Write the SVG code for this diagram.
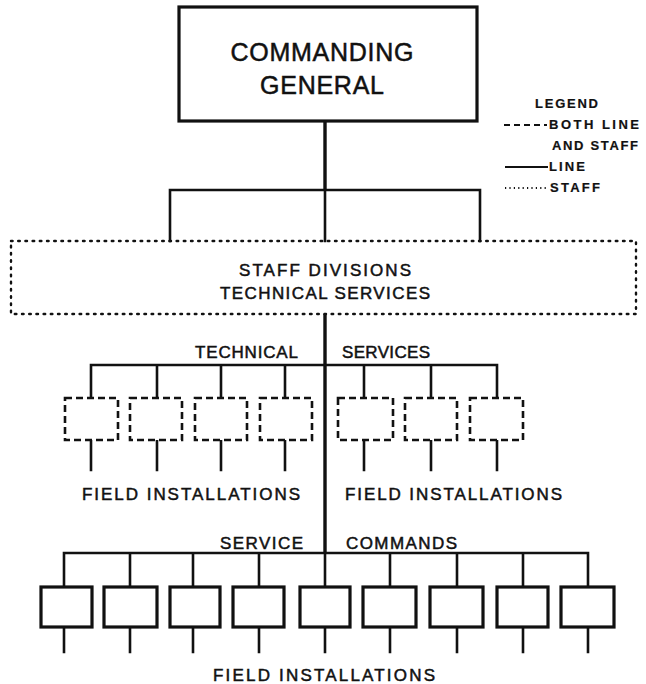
<svg xmlns="http://www.w3.org/2000/svg" width="646" height="684" viewBox="0 0 646 684">
<style>
text{font-family:"Liberation Sans","DejaVu Sans",sans-serif;fill:#111;stroke:#111;stroke-width:0.5;}
.lbl{font-size:17px;}
.big{font-size:25px;}
.leg{font-size:13px;font-weight:bold;stroke-width:0.2;}
.ln{stroke:#111;stroke-width:2.6;fill:none;stroke-linecap:square;}
.spine{stroke:#111;stroke-width:3.4;fill:none;}
.solid{stroke:#111;stroke-width:3.2;fill:#fff;}
.dash{stroke:#111;stroke-width:2.6;fill:#fff;stroke-dasharray:7 4;}
.dot{stroke:#111;stroke-width:2.4;fill:none;stroke-dasharray:1.6 5.6;stroke-linecap:round;}
</style>
<rect width="646" height="684" fill="#fff" stroke="none"/>
<g id="connectors">
<path class="spine" d="M325 121V190M325 314V553"/>
<path class="ln" d="M170 241V190H480V241M325 190V241"/>
<path class="ln" d="M91 398V365H497V398M157 365V398M221 365V398M285 365V398M364 365V398M431 365V398"/>
<path class="ln" d="M91 440V470M157 440V470M221 440V470M285 440V470M364 440V470M431 440V470M497 440V470"/>
<path class="ln" d="M64 587V553H588V587M130 553V587M193 553V587M259 553V587M325 553V587M390 553V587M457 553V587M523 553V587"/>
<path class="ln" d="M64 627V652M130 627V652M193 627V652M259 627V652M325 627V652M390 627V652M457 627V652M523 627V652M588 627V652"/>
</g>
<g id="commanding-general">
<rect class="solid" x="179" y="7" width="298" height="114"/>
<text class="big" x="322" y="61" text-anchor="middle" textLength="183" lengthAdjust="spacing">COMMANDING</text>
<text class="big" x="322" y="94" text-anchor="middle" textLength="124" lengthAdjust="spacing">GENERAL</text>
</g>
<g id="legend">
<text class="leg" x="535" y="108" textLength="63" lengthAdjust="spacing">LEGEND</text>
<line x1="504" y1="125" x2="547" y2="125" stroke="#111" stroke-width="2" stroke-dasharray="6 4"/>
<text class="leg" x="549" y="129" textLength="90" lengthAdjust="spacing">BOTH LINE</text>
<text class="leg" x="552" y="150" textLength="86" lengthAdjust="spacing">AND STAFF</text>
<line x1="505" y1="167" x2="548" y2="167" stroke="#111" stroke-width="2"/>
<text class="leg" x="549" y="171" textLength="36" lengthAdjust="spacing">LINE</text>
<line x1="505" y1="188" x2="548" y2="188" stroke="#111" stroke-width="2" stroke-dasharray="1.2 3.2"/>
<text class="leg" x="550" y="192" textLength="50" lengthAdjust="spacing">STAFF</text>
</g>
<g id="staff-divisions">
<rect class="dot" x="11" y="241" width="625" height="73"/>
<text class="lbl" x="325" y="276" text-anchor="middle" textLength="172" lengthAdjust="spacing">STAFF DIVISIONS</text>
<text class="lbl" x="325" y="299" text-anchor="middle" textLength="210" lengthAdjust="spacing">TECHNICAL SERVICES</text>
</g>
<g id="technical-services">
<text class="lbl" x="195" y="358" textLength="103" lengthAdjust="spacing">TECHNICAL</text>
<text class="lbl" x="342" y="358" textLength="88" lengthAdjust="spacing">SERVICES</text>
<rect class="dash" x="65" y="398" width="53" height="42"/>
<rect class="dash" x="130" y="398" width="52" height="42"/>
<rect class="dash" x="195" y="398" width="52" height="42"/>
<rect class="dash" x="260" y="398" width="52" height="42"/>
<rect class="dash" x="338" y="398" width="55" height="42"/>
<rect class="dash" x="405" y="398" width="52" height="42"/>
<rect class="dash" x="470" y="398" width="53" height="42"/>
<text class="lbl" x="82" y="500" textLength="218" lengthAdjust="spacing">FIELD INSTALLATIONS</text>
<text class="lbl" x="345" y="500" textLength="217" lengthAdjust="spacing">FIELD INSTALLATIONS</text>
</g>
<g id="service-commands">
<text class="lbl" x="220" y="549" textLength="83" lengthAdjust="spacing">SERVICE</text>
<text class="lbl" x="346" y="549" textLength="111" lengthAdjust="spacing">COMMANDS</text>
<rect class="solid" x="41" y="587" width="51" height="40"/>
<rect class="solid" x="104" y="587" width="53" height="40"/>
<rect class="solid" x="170" y="587" width="50" height="40"/>
<rect class="solid" x="233" y="587" width="51" height="40"/>
<rect class="solid" x="300" y="587" width="50" height="40"/>
<rect class="solid" x="363" y="587" width="53" height="40"/>
<rect class="solid" x="430" y="587" width="53" height="40"/>
<rect class="solid" x="497" y="587" width="51" height="40"/>
<rect class="solid" x="561" y="587" width="53" height="40"/>
<text class="lbl" x="213" y="681" textLength="222" lengthAdjust="spacing">FIELD INSTALLATIONS</text>
</g>
</svg>
